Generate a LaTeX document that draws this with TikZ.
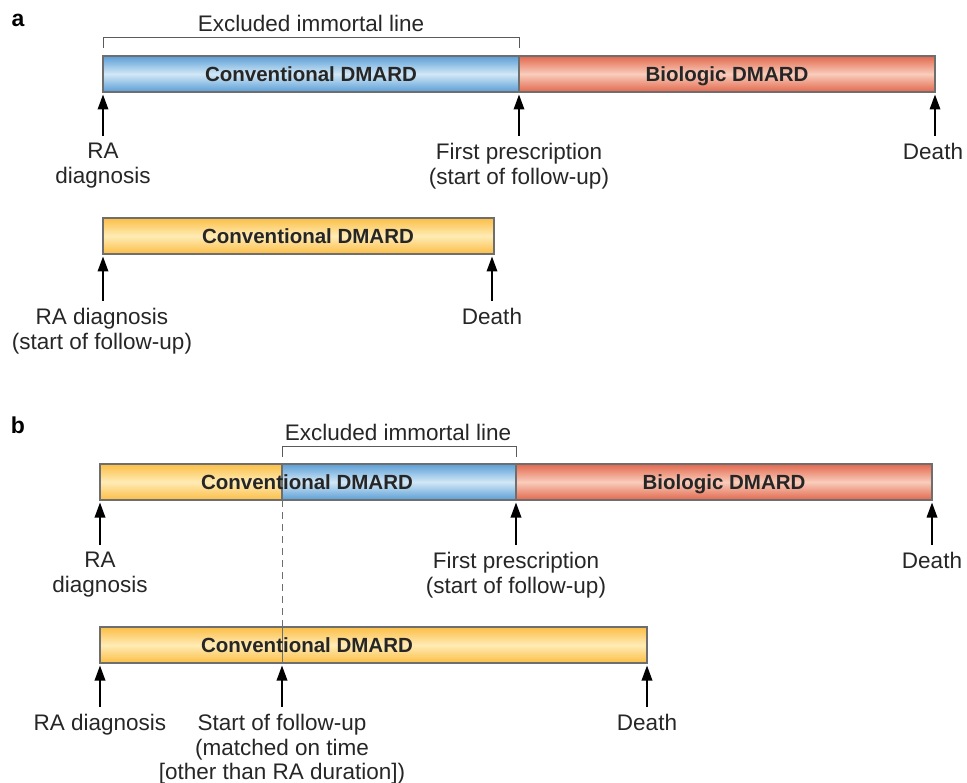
\documentclass[tikz,border=0pt]{standalone}
\usepackage{fontspec}
\setmainfont{Liberation Sans}
\usetikzlibrary{arrows.meta}
\definecolor{blueE}{HTML}{5A9ED6}
\definecolor{blueM}{HTML}{D2E7F6}
\definecolor{redE}{HTML}{E2674E}
\definecolor{redM}{HTML}{F9CDBB}
\definecolor{yelE}{HTML}{FBBE45}
\definecolor{yelM}{HTML}{FFEBB5}
\definecolor{barline}{HTML}{6E6E6E}
\definecolor{brk}{HTML}{5A5A5A}
\begin{document}
\begin{tikzpicture}[x=1pt,y=-1pt,
  seg/.style={draw=barline,line width=1.2pt,minimum height=36pt,inner sep=0pt,outer sep=0pt,anchor=west},
  blueseg/.style={seg,top color=blueE,bottom color=blueE,middle color=blueM},
  redseg/.style={seg,top color=redE,bottom color=redE,middle color=redM},
  yelseg/.style={seg,top color=yelE,bottom color=yelE,middle color=yelM},
  bartext/.style={font=\fontsize{20.5}{24}\selectfont\bfseries,text=black!85,inner sep=0pt,text height=14.6pt,text depth=0pt},
  lab/.style={font=\fontsize{22.5}{24.5}\selectfont,align=center,anchor=north,inner sep=0pt,text=black!85},
  panel/.style={font=\fontsize{23}{26}\selectfont\bfseries,inner sep=0pt},
  arr/.style={line width=1.8pt,-{Triangle[length=15pt,width=10.5pt]},shorten >=2.5pt},
  brack/.style={draw=brk,line width=1pt},
  head/.style={font=\fontsize{22.5}{26}\selectfont,inner sep=0pt,text=black!85}
]
\useasboundingbox (0,0) rectangle (967,783);

% ---------- panel a ----------
\node[panel] (pa) at (18,20) {a};
\node[blueseg,minimum width=416pt] (a1c) at (103,74) {};
\node[redseg,minimum width=416pt] (a1b) at (519,74) {};
\node[bartext] (a1ct) at (311,74) {Conventional DMARD};
\node[bartext] (a1bt) at (727,74) {Biologic DMARD};
\draw[brack] (103,48) -- (103,38) -- (519,38) -- (519,48);
\node[head] (ea) at (311,23) {Excluded immortal line};

\node[lab] (la1) at (103,143) {RA\\diagnosis};
\node[lab] (la2) at (519,143) {First prescription\\(start of follow-up)};
\node[lab] (la3) at (933,143) {Death};
\coordinate (ta1) at (103,136);
\coordinate (ta2) at (519,136);
\coordinate (ta3) at (935,136);
\draw[arr] (ta1) -- (a1c.south west);
\draw[arr] (ta2) -- (a1b.south west);
\draw[arr] (ta3) -- (a1b.south east);

\node[yelseg,minimum width=391pt] (a2c) at (103,236) {};
\node[bartext] (a2ct) at (308,236) {Conventional DMARD};
\node[lab] (la4) at (102,308) {RA diagnosis\\(start of follow-up)};
\node[lab] (la5) at (492,308) {Death};
\coordinate (ta4) at (103,301);
\coordinate (ta5) at (492,301);
\draw[arr] (ta4) -- (a2c.south west);
\draw[arr] (ta5) -- (a2c.south east -| ta5);

% ---------- panel b ----------
\node[panel] (pb) at (18,425) {b};
\node[yelseg,minimum width=182pt] (b1y) at (100,482) {};
\node[blueseg,minimum width=234pt] (b1c) at (282,482) {};
\node[redseg,minimum width=416pt] (b1b) at (516,482) {};
\node[bartext] (b1ct) at (307,482) {Conventional DMARD};
\node[bartext] (b1bt) at (724,482) {Biologic DMARD};
\draw[brack] (282,457) -- (282,447) -- (516,447) -- (516,457);
\node[head] (eb) at (398,432) {Excluded immortal line};

\node[lab] (lb1) at (100,552) {RA\\diagnosis};
\node[lab] (lb2) at (516,552) {First prescription\\(start of follow-up)};
\node[lab] (lb3) at (932,552) {Death};
\coordinate (tb1) at (100,545);
\coordinate (tb2) at (516,545);
\coordinate (tb3) at (932,545);
\draw[arr] (tb1) -- (b1y.south west);
\draw[arr] (tb2) -- (b1b.south west);
\draw[arr] (tb3) -- (b1b.south east);

\node[yelseg,minimum width=547pt] (b2c) at (100,645) {};
\draw[barline,line width=0.8pt] (b2c.north west -| b1c.south west) -- (b2c.south west -| b1c.south west);
\draw[barline,line width=1pt,dash pattern=on 7pt off 5pt] (b1c.south west) -- (b2c.north west -| b1c.south west);
\node[bartext] (b2ct) at (307,645) {Conventional DMARD};
\node[lab] (lb4) at (100,714) {RA diagnosis};
\node[lab] (lb5) at (282,714) {Start of follow-up\\(matched on time\\{[other than RA duration]})};
\node[lab] (lb6) at (647,714) {Death};
\coordinate (tb4) at (100,707);
\coordinate (tb5) at (282,707);
\coordinate (tb6) at (647,707);
\draw[arr] (tb4) -- (b2c.south west);
\draw[arr] (tb5) -- (b2c.south west -| tb5);
\draw[arr] (tb6) -- (b2c.south east);
\end{tikzpicture}
\end{document}
